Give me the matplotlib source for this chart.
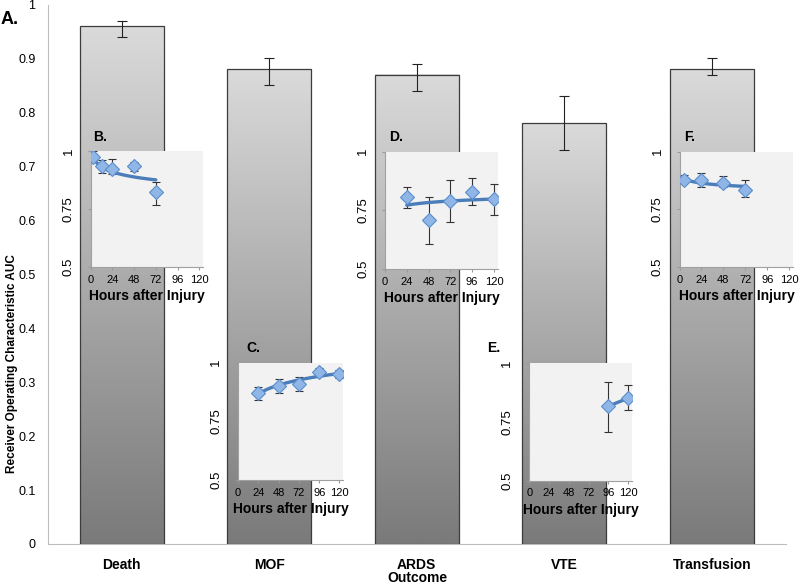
import numpy as np
import matplotlib
matplotlib.use("Agg")
import matplotlib.pyplot as plt
from matplotlib.colors import LinearSegmentedColormap

plt.rcParams['font.family'] = ['Liberation Sans', 'DejaVu Sans']

# main panel A: AUC per outcome
outcomes = ["Death", "MOF", "ARDS", "VTE", "Transfusion"]
auc = [0.96, 0.88, 0.87, 0.78, 0.88]
auc_lo = [0.94, 0.85, 0.84, 0.73, 0.87]
auc_hi = [0.97, 0.90, 0.89, 0.83, 0.90]

# insets: AUC over hours after injury
b_hours = [2, 12, 24, 48, 72]
b_auc = [0.976, 0.936, 0.922, 0.934, 0.824]
b_lo = [0.960, 0.907, 0.900, 0.914, 0.767]
b_hi = [1.000, 0.962, 0.965, 0.953, 0.867]

c_hours = [24, 48, 72, 96, 120]
c_auc = [0.872, 0.901, 0.908, 0.962, 0.951]
c_lo = [0.843, 0.872, 0.878, 0.948, 0.933]
c_hi = [0.897, 0.929, 0.940, 0.979, 0.970]

d_hours = [24, 48, 72, 96, 120]
d_auc = [0.809, 0.709, 0.791, 0.830, 0.799]
d_lo = [0.759, 0.607, 0.700, 0.771, 0.730]
d_hi = [0.850, 0.809, 0.880, 0.890, 0.862]

e_hours = [96, 120]
e_auc = [0.816, 0.850]
e_lo = [0.706, 0.800]
e_hi = [0.920, 0.905]

f_hours = [5, 24, 48, 72]
f_auc = [0.877, 0.877, 0.865, 0.833]
f_lo = [0.863, 0.848, 0.845, 0.804]
f_hi = [0.899, 0.906, 0.896, 0.877]

hour_ticks = [0, 24, 48, 72, 96, 120]

W, H = 800, 586
fig = plt.figure(figsize=(8, 5.86), dpi=100)


def px_rect(left, top, right, bottom):
    return [left / W, (H - bottom) / H, (right - left) / W, (bottom - top) / H]


ax = fig.add_axes(px_rect(48, 4.5, 785.5, 544))
xs = np.arange(len(outcomes))
bw = 0.57
grad = np.linspace(0, 1, 256).reshape(-1, 1)
cmap = LinearSegmentedColormap.from_list("bar", ["#7a7a7a", "#dadada"])
for x, h in zip(xs, auc):
    ax.imshow(grad, extent=(x - bw / 2, x + bw / 2, 0, h), origin="lower",
              cmap=cmap, aspect="auto", zorder=2)
ax.bar(xs, auc, width=bw, facecolor="none", edgecolor="#3c3c3c", linewidth=0.9, zorder=3)
yerr = [np.array(auc) - np.array(auc_lo), np.array(auc_hi) - np.array(auc)]
ax.errorbar(xs, auc, yerr=yerr, fmt="none", ecolor="#222222", elinewidth=0.8,
            capsize=3.5, capthick=0.8, zorder=4)
ax.set_xlim(-0.5, len(outcomes) - 0.5)
ax.set_ylim(0, 1)
yt = np.round(np.arange(0, 1.01, 0.1), 1)
ax.set_yticks(yt)
ax.set_yticklabels(["%g" % v for v in yt], fontsize=9)
ax.set_xticks(xs)
ax.set_xticklabels(outcomes, fontsize=10, fontweight="bold")
ax.tick_params(axis="both", length=0)
ax.tick_params(axis="y", pad=9)
ax.tick_params(axis="x", pad=10)
for s in ["top", "right"]:
    ax.spines[s].set_visible(False)
for s in ["left", "bottom"]:
    ax.spines[s].set_color("#bdbdbd")

fig.text(417 / W, (H - 578) / H, "Outcome", ha="center", va="center",
         fontsize=10, fontweight="bold")
fig.text(12 / W, (H - 364) / H, "Receiver Operating Characteristic AUC", rotation=90,
         ha="center", va="center", fontsize=8.5, fontweight="bold")
fig.text(1 / W, (H - 20) / H, "A.", ha="left", va="center", fontsize=13, fontweight="bold")


def inset(rect, hours, vals, lo, hi, letter, letter_xy):
    a = fig.add_axes(rect)
    a.set_facecolor("#f2f2f2")
    # logarithmic trend line fitted to the points
    coef = np.polyfit(np.log(hours), vals, 1)
    tx = np.linspace(min(hours), max(hours), 100)
    a.plot(tx, np.polyval(coef, np.log(tx)), color="#4a7dba", lw=2.4, zorder=3,
           solid_capstyle="round")
    err = [np.array(vals) - np.array(lo), np.array(hi) - np.array(vals)]
    a.errorbar(hours, vals, yerr=err, fmt="none", ecolor="#333333", elinewidth=0.8,
               capsize=3, capthick=0.8, zorder=2)
    a.plot(hours, vals, "D", ms=7.5, mfc="#8fb6e6", mec="#5b8dcc", mew=0.8, zorder=4)
    a.set_xlim(0, 124.5)
    a.set_ylim(0.5, 1)
    a.set_xticks(hour_ticks)
    a.set_xticklabels([str(t) for t in hour_ticks], fontsize=8)
    a.set_yticks([0.5, 0.75, 1])
    a.set_yticklabels(["0.5", "0.75", "1"], fontsize=9.5, rotation=90, va="center")
    a.tick_params(axis="x", length=2.5, pad=3, color="#999999")
    a.tick_params(axis="y", length=2.5, pad=9, color="#999999")
    a.set_xlabel("Hours after Injury", fontsize=10, fontweight="bold", labelpad=3)
    for s in ["top", "right"]:
        a.spines[s].set_visible(False)
    for s in ["left", "bottom"]:
        a.spines[s].set_color("#a0a0a0")
    fig.text(letter_xy[0] / W, (H - letter_xy[1]) / H, letter, ha="left", va="center",
             fontsize=10, fontweight="bold")
    return a


inset(px_rect(90.7, 151, 203.3, 267), b_hours, b_auc, b_lo, b_hi, "B.", (93, 137))
inset(px_rect(238, 362.7, 343.3, 480), c_hours, c_auc, c_lo, c_hi, "C.", (246, 348))
inset(px_rect(385, 151.7, 498, 269), d_hours, d_auc, d_lo, d_hi, "D.", (389, 137))
inset(px_rect(529.3, 363, 632, 480.7), e_hours, e_auc, e_lo, e_hi, "E.", (487, 348))
inset(px_rect(679.5, 151.7, 793.3, 267), f_hours, f_auc, f_lo, f_hi, "F.", (684, 137))

fig.savefig("out.png", dpi=100)
